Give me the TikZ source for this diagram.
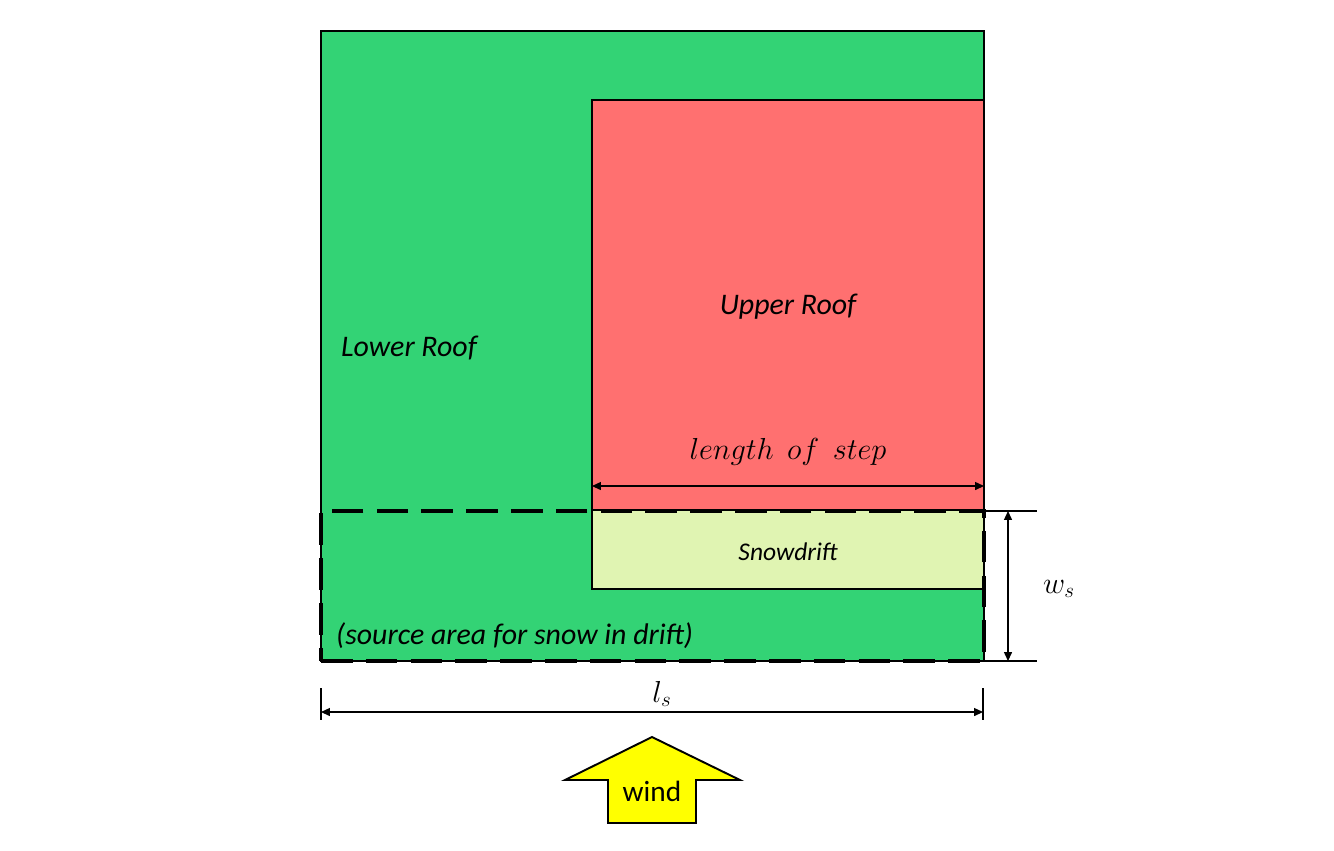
\documentclass[tikz,border=0pt]{standalone}
\usepackage{fontspec}
\setmainfont{Carlito}
\usepackage{amsmath}
\usetikzlibrary{calc,arrows.meta}

\definecolor{roofgreen}{HTML}{33D375}
\definecolor{roofred}{HTML}{FF7070}
\definecolor{driftgreen}{HTML}{E0F4B2}
\definecolor{windyellow}{HTML}{FFFF00}

\begin{document}
\begin{tikzpicture}[x=0.02cm,y=-0.02cm]
            \pgfmathsetmacro{\px}{0.02}
            \tikzstyle{roof}=[draw=black, line width=0.9pt, inner sep=0pt, outer sep=0pt, anchor=north west]
            \tikzstyle{lbl}=[font=\fontsize{17}{20}\selectfont\itshape]
            \tikzstyle{mlbl}=[font=\fontsize{17.28}{20}\selectfont]
            \tikzstyle{dim}=[line width=0.6pt, {Triangle[length=5pt,width=4.5pt]}-{Triangle[length=5pt,width=4.5pt]}]
            \tikzstyle{ext}=[line width=0.6pt]
            \useasboundingbox (0,0) rectangle (1334,850);

            %%%%%%%%%%%%%%%%%%%%%%%%%%%%%%%%%%%%%%%%
            \node[roof, fill=roofgreen, minimum width=663*\px cm, minimum height=630*\px cm] (lower) at (321,31) {};
            \node[roof, fill=roofred, minimum width=392*\px cm, minimum height=410*\px cm] (upper) at (592,100) {};
            \node[roof, fill=driftgreen, minimum width=392*\px cm, minimum height=79*\px cm] (drift) at (592,510) {};
            \node[roof, draw=black, line width=2.3pt, dash pattern=on 18pt off 7.5pt, minimum width=663*\px cm, minimum height=150*\px cm] (source) at (321,511) {};

            \node[lbl] (lowerlbl) at (409,348) {Lower Roof};
            \node[lbl] (upperlbl) at (788,307) {Upper Roof};
            \node[lbl, font=\fontsize{14.5}{17}\selectfont\itshape] (driftlbl) at (788,552) {Snowdrift};
            \node[lbl, anchor=west] (sourcelbl) at (330,636) {(source area for snow in drift)};

            %%%%%%%%%%%%%%%%%%%%%%%%%%%%%%%%%%%%%%%%
            % length of step
            \coordinate (stepL) at (592,486);
            \coordinate (stepR) at (984,486);
            \draw[dim] (stepL) -- (stepR);
            \node[mlbl] (steplbl) at (788,452) {$length\;\,of\;\,step$};

            % w_s
            \coordinate (wtop) at (1037,511);
            \coordinate (wbot) at (1037,661);
            \coordinate (wa) at (1008,511);
            \coordinate (wb) at (1008,661);
            \draw[ext] (source.north east) -- (wtop);
            \draw[ext] (source.south east) -- (wbot);
            \draw[dim] (wa) -- (wb);
            \node[mlbl] (wlbl) at (1059,589) {$w_s$};

            % l_s
            \coordinate (lLt) at (321,688);
            \coordinate (lLb) at (321,720);
            \coordinate (lRt) at (983,688);
            \coordinate (lRb) at (983,720);
            \coordinate (la) at (321,712);
            \coordinate (lb) at (983,712);
            \draw[ext] (lLt) -- (lLb);
            \draw[ext] (lRt) -- (lRb);
            \draw[dim] (la) -- (lb);
            \node[mlbl] (llbl) at (662,694) {$l_s$};

            %%%%%%%%%%%%%%%%%%%%%%%%%%%%%%%%%%%%%%%%
            % wind
            \draw[line width=1.1pt, fill=windyellow, line join=miter]
                (652,737) -- (740,780) -- (696,780) -- (696,823) -- (608,823) -- (608,780) -- (565,780) -- cycle;
            \node[font=\fontsize{16.7}{20}\selectfont] (windlbl) at (652,791) {wind};
        \end{tikzpicture}
\end{document}
